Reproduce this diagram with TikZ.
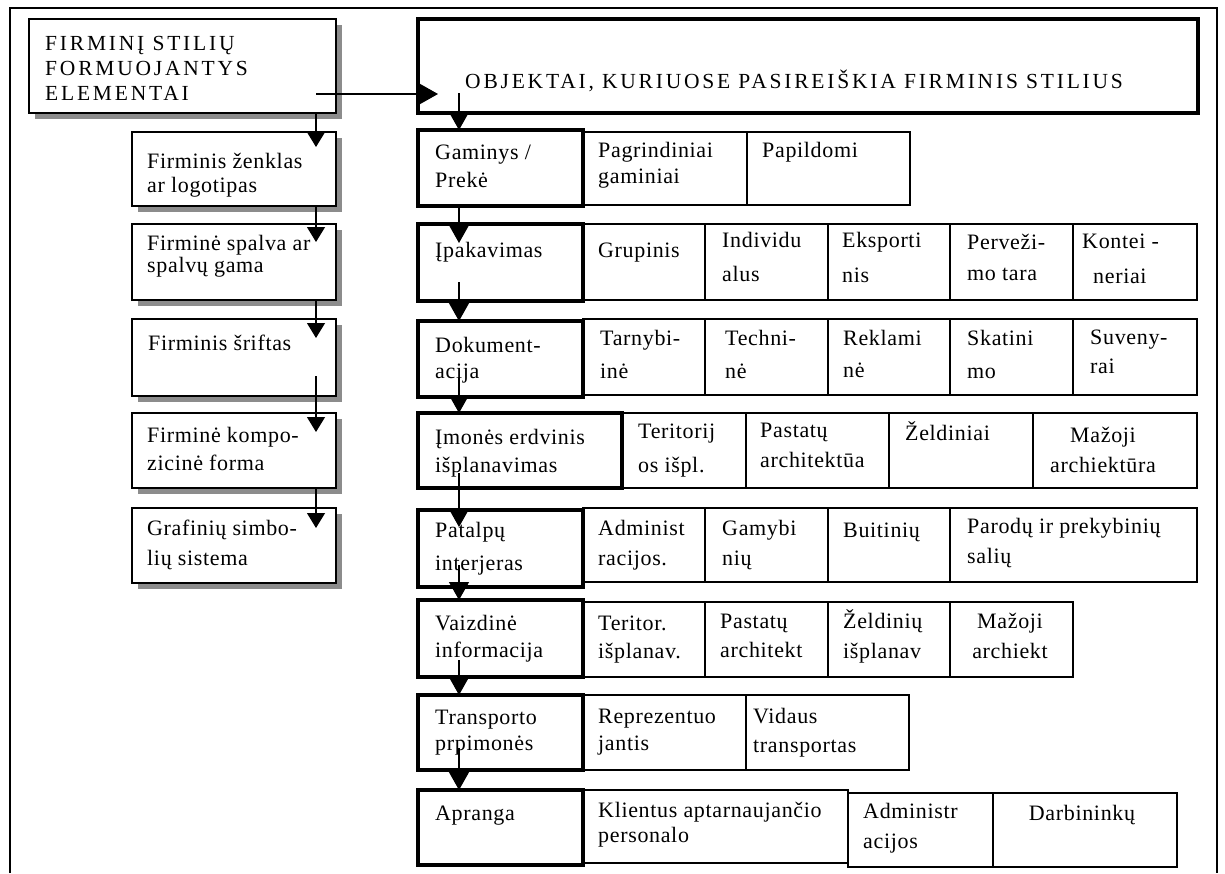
\documentclass[tikz,border=0pt]{standalone}
\usepackage{fontspec}
\setmainfont{Liberation Serif}
\newfontfamily\capf[LetterSpace=13]{Liberation Serif}
\newfontfamily\txf[LetterSpace=3]{Liberation Serif}
\usetikzlibrary{fit,shadows,arrows.meta,calc}
\newcommand\bx[6][cell]{\node[#1, fit={(#3,#4)(#5,#6)}] (#2) {};}
\newcommand\ml[1]{\begin{tabular}[t]{@{}l@{}}#1\end{tabular}}
\newcommand\mc[1]{\begin{tabular}[t]{@{}c@{}}#1\end{tabular}}
\tikzset{
  cell/.style={draw, line width=1.3pt, inner sep=0pt, outer sep=0pt, rectangle},
  mainbox/.style={draw, line width=4pt, inner sep=0pt, outer sep=0pt, rectangle},
  lbox/.style={draw, line width=1.4pt, inner sep=0pt, outer sep=0pt, rectangle, fill=white,
    drop shadow={shadow xshift=6pt, shadow yshift=-6pt, fill=black!45, opacity=1}},
  tx/.style={anchor=base west, inner sep=0pt, font=\txf\fontsize{22}{#1}\selectfont},
  tx/.default=28,
  txc/.style={anchor=base, inner sep=0pt, font=\txf\fontsize{22}{#1}\selectfont},
  txc/.default=28,
  captx/.style={anchor=base west, inner sep=0pt, font=\capf\fontsize{21.5}{25}\selectfont},
  arrL/.style={line width=1.2pt, -{Triangle[width=18pt,length=15pt]}},
  arrR/.style={line width=1.2pt, -{Triangle[width=20pt,length=18pt]}},
}
\begin{document}
\begin{tikzpicture}[x=1pt,y=-1pt]
\useasboundingbox (0,0) rectangle (1225,873);
\fill[white] (0,0) rectangle (1225,873);
% outer frame
\draw[line width=1.5pt] (10,873) -- (10,8) -- (1217,8) -- (1217,873);

% ---------- left column ----------
\bx[lbox]{e0}{29}{19}{336}{113}
\node[captx] (e0t) at (45,50) {\ml{FIRMINĮ STILIŲ\\FORMUOJANTYS\\ELEMENTAI}};
\bx[lbox]{e1}{132}{132}{336}{206}
\node[tx=24] (e1t) at (147,168) {\ml{Firminis ženklas\\ar logotipas}};
\bx[lbox]{e2}{132}{224}{336}{300}
\node[tx=22] (e2t) at (147,250) {\ml{Firminė spalva ar\\spalvų gama}};
\bx[lbox]{e3}{132}{319}{336}{396}
\node[tx] (e3t) at (148,350) {Firminis šriftas};
\bx[lbox]{e4}{132}{413}{336}{488}
\node[tx=28] (e4t) at (147,442) {\ml{Firminė kompo-\\zicinė forma}};
\bx[lbox]{e5}{132}{508}{336}{583}
\node[tx=30] (e5t) at (147,535) {\ml{Grafinių simbo-\\lių sistema}};

% ---------- title box ----------
\bx[mainbox]{obj}{418}{19}{1198}{113}
\node[captx] (objt) at (465,88) {OBJEKTAI, KURIUOSE PASIREIŠKIA FIRMINIS STILIUS};

% ---------- row 1 ----------
\bx{c1a}{583}{132}{747}{205}
\bx{c1b}{747}{132}{910}{205}
\bx[mainbox]{m1}{418}{130}{583}{206}
\node[tx=28] at (435,159) {\ml{Gaminys /\\Prekė}};
\node[tx=26] at (598,157) {\ml{Pagrindiniai\\gaminiai}};
\node[tx] at (762,157) {Papildomi};

% ---------- row 2 ----------
\bx{c2a}{583}{224}{705}{300}
\bx{c2b}{705}{224}{828}{300}
\bx{c2c}{828}{224}{950}{300}
\bx{c2d}{950}{224}{1073}{300}
\bx{c2e}{1073}{224}{1197}{300}
\bx[mainbox]{m2}{418}{224}{583}{301}
\node[tx] at (435,257) {Įpakavimas};
\node[tx] at (598,257) {Grupinis};
\node[tx=34] at (722,247) {\ml{Individu\\alus}};
\node[tx=35] at (842,247) {\ml{Eksporti\\nis}};
\node[tx=31] at (967,249) {\ml{Perveži-\\mo tara}};
\node[tx=35] at (1082,248) {\ml{Kontei -\\\hspace{11pt}neriai}};

% ---------- row 3 ----------
\bx{c3a}{583}{319}{705}{395}
\bx{c3b}{705}{319}{828}{395}
\bx{c3c}{828}{319}{950}{395}
\bx{c3d}{950}{319}{1073}{395}
\bx{c3e}{1073}{319}{1197}{395}
\bx[mainbox]{m3}{418}{321}{583}{397}
\node[tx=26] at (435,352) {\ml{Dokument-\\acija}};
\node[tx=33] at (600,345) {\ml{Tarnybi-\\inė}};
\node[tx=33] at (725,345) {\ml{Techni-\\nė}};
\node[tx=32] at (843,345) {\ml{Reklami\\nė}};
\node[tx=33] at (967,345) {\ml{Skatini\\mo}};
\node[tx=29] at (1090,344) {\ml{Suveny-\\rai}};

% ---------- row 4 ----------
\bx{c4a}{622}{413}{746}{488}
\bx{c4b}{746}{413}{889}{488}
\bx{c4c}{889}{413}{1033}{488}
\bx{c4d}{1033}{413}{1197}{488}
\bx[mainbox]{m4}{418}{413}{622}{488}
\node[tx=28] at (435,444) {\ml{Įmonės erdvinis\\išplanavimas}};
\node[tx=34] at (638,438) {\ml{Teritorij\\os išpl.}};
\node[tx=30] at (760,437) {\ml{Pastatų\\architektūa}};
\node[tx] at (905,440) {Želdiniai};
\node[txc=30] at (1103,442) {\mc{Mažoji\\archiektūra}};

% ---------- row 5 ----------
\bx{c5a}{583}{508}{705}{582}
\bx{c5b}{705}{508}{828}{582}
\bx{c5c}{828}{508}{950}{582}
\bx{c5d}{950}{508}{1197}{582}
\bx[mainbox]{m5}{418}{510}{583}{587}
\node[tx=33] at (435,537) {\ml{Patalpų\\interjeras}};
\node[tx=30] at (598,535) {\ml{Administ\\racijos.}};
\node[tx=30] at (722,535) {\ml{Gamybi\\nių}};
\node[tx] at (843,537) {Buitinių};
\node[tx=30] at (967,533) {\ml{Parodų ir prekybinių\\salių}};

% ---------- row 6 ----------
\bx{c6a}{583}{602}{705}{677}
\bx{c6b}{705}{602}{828}{677}
\bx{c6c}{828}{602}{950}{677}
\bx{c6d}{950}{602}{1073}{677}
\bx[mainbox]{m6}{418}{600}{583}{677}
\node[tx=27] at (435,630) {\ml{Vaizdinė\\informacija}};
\node[tx=28] at (598,630) {\ml{Teritor.\\išplanav.}};
\node[tx=29] at (720,628) {\ml{Pastatų\\architekt}};
\node[tx=30] at (843,628) {\ml{Želdinių\\išplanav}};
\node[txc=30] at (1010,628) {\mc{Mažoji\\archiekt}};

% ---------- row 7 ----------
\bx{c7a}{583}{695}{746}{770}
\bx{c7b}{746}{695}{909}{770}
\bx[mainbox]{m7}{418}{695}{583}{770}
\node[tx=26] at (435,724) {\ml{Transporto\\prpimonės}};
\node[tx=27] at (598,723) {\ml{Reprezentuo\\jantis}};
\node[tx=29] at (753,723) {\ml{Vidaus\\transportas}};

% ---------- row 8 ----------
\bx{c8a}{583}{790}{848}{863}
\bx{c8b}{848}{793}{993}{867}
\bx{c8c}{993}{793}{1177}{867}
\bx[mainbox]{m8}{418}{790}{583}{865}
\node[tx] at (435,820) {Apranga};
\node[tx=25] at (598,817) {\ml{Klientus aptarnaujančio\\personalo}};
\node[tx=30] at (863,818) {\ml{Administr\\acijos}};
\node[txc] at (1082,820) {Darbininkų};

% ---------- connectors ----------
\coordinate (lx) at (316,0);
\coordinate (rx) at (459,0);
\draw[arrL] (e0.south -| lx) -- ($(e1.north -| lx)+(0,15)$);
\draw[arrL] (e1.south -| lx) -- ($(e2.north -| lx)+(0,18)$);
\draw[arrL] (e2.south -| lx) -- ($(e3.north -| lx)+(0,19)$);
\draw[arrL] ($(e3.south -| lx)+(0,-20)$) -- ($(e4.north -| lx)+(0,19)$);
\draw[arrL] (e4.south -| lx) -- ($(e5.north -| lx)+(0,20)$);
\draw[arrR] ($(e0.south -| lx)+(0,-19)$) -- ($(e0.south -| obj.west)+(20,-19)$);
\draw[arrR] ($(obj.south -| rx)+(0,-20)$) -- (m1.north -| rx);
\draw[arrR] (m1.south -| rx) -- ($(m2.north -| rx)+(0,19)$);
\draw[arrR] ($(m2.south -| rx)+(0,-19)$) -- (m3.north -| rx);
\draw[arrR] ($(m3.south -| rx)+(0,-19)$) -- (m4.north -| rx);
\draw[arrR] ($(m4.south -| rx)+(0,-15)$) -- ($(m5.north -| rx)+(0,17)$);
\draw[arrR] ($(m5.south -| rx)+(0,-22)$) -- (m6.north -| rx);
\draw[arrR] ($(m6.south -| rx)+(0,-17)$) -- (m7.north -| rx);
\draw[arrR] ($(m7.south -| rx)+(0,-22)$) -- (m8.north -| rx);
\end{tikzpicture}
\end{document}
